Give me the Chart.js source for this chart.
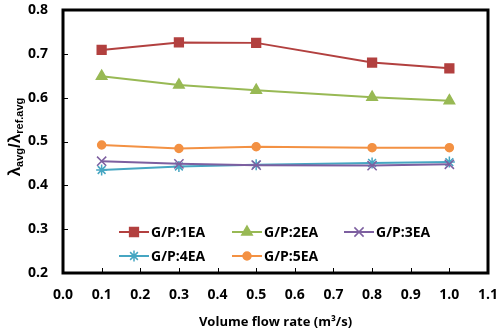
<!DOCTYPE html>
<html>
<head>
<meta charset="utf-8">
<script src="https://cdn.jsdelivr.net/npm/chart.js@4"></script>
<style>
  html, body { margin: 0; padding: 0; background: #fff; }
  #wrap { width: 496px; height: 335px; }
</style>
</head>
<body>
<div id="wrap"><canvas id="flow"></canvas></div>
<script>
// Werte
var flowRate = [0.1, 0.3, 0.5, 0.8, 1.0];
var gp1 = [0.709, 0.726, 0.725, 0.680, 0.667];
var gp2 = [0.649, 0.629, 0.617, 0.601, 0.593];
var gp3 = [0.455, 0.449, 0.446, 0.445, 0.448];
var gp4 = [0.435, 0.443, 0.447, 0.451, 0.453];
var gp5 = [0.492, 0.484, 0.488, 0.486, 0.486];
var seriesNames = ["G/P:1EA", "G/P:2EA", "G/P:3EA", "G/P:4EA", "G/P:5EA"];
var xTicks = [0.0, 0.1, 0.2, 0.3, 0.4, 0.5, 0.6, 0.7, 0.8, 0.9, 1.0, 1.1];
var yTicks = [0.2, 0.3, 0.4, 0.5, 0.6, 0.7, 0.8];
var xTitle = "Volume flow rate (m³/s)";

var FONT = "'Open Sans', 'Liberation Sans', sans-serif";
var TFONT = "'Liberation Sans', sans-serif";

function points(vals) {
  var out = [];
  for (var i in vals) {
    out.push({ x: flowRate[i], y: vals[i] });
  }
  return out;
}

var styles = [
  { color: "#B2403F", point: "rect", r: 6.2 },
  { color: "#98B954", point: "triangle", r: 6 },
  { color: "#7D5FA0", point: "crossRot", r: 6.5 },
  { color: "#46A6C2", point: "star", r: 5.5 },
  { color: "#F39143", point: "circle", r: 4 }
];
var values = [gp1, gp2, gp3, gp4, gp5];

var datasets = [];
for (var i = 0; i < values.length; i++) {
  datasets.push({
    label: seriesNames[i],
    data: points(values[i]),
    borderColor: styles[i].color,
    backgroundColor: styles[i].color,
    pointStyle: styles[i].point,
    pointRadius: styles[i].r,
    pointBorderWidth: 1.5,
    borderWidth: 2,
    tension: 0
  });
}

// Rahmen, innere Striche, Legende und Achsentitel
var decor = {
  id: "decor",
  afterDraw: function (chart) {
    var ctx = chart.ctx;
    var a = chart.chartArea;
    var xs = chart.scales.x, ys = chart.scales.y;
    ctx.save();
    ctx.strokeStyle = "#000";
    ctx.lineWidth = 1;
    ctx.beginPath();
    xTicks.forEach(function (v) {
      var px = Math.round(xs.getPixelForValue(v)) + 0.5;
      ctx.moveTo(px, a.bottom);
      ctx.lineTo(px, a.bottom - 5);
    });
    yTicks.forEach(function (v) {
      var py = Math.round(ys.getPixelForValue(v)) + 0.5;
      ctx.moveTo(a.left, py);
      ctx.lineTo(a.left + 5, py);
    });
    ctx.stroke();
    ctx.lineWidth = 3;
    ctx.strokeRect(a.left, a.top, a.right - a.left, a.bottom - a.top);

    // Legende im Diagramm
    var cols = [119, 232, 344];
    var rows = [232, 256];
    ctx.font = "bold 14px " + FONT;
    ctx.textBaseline = "middle";
    ctx.textAlign = "left";
    for (var k = 0; k < seriesNames.length; k++) {
      var lx = cols[k % 3], ly = rows[Math.floor(k / 3)];
      var st = styles[k];
      ctx.strokeStyle = st.color;
      ctx.fillStyle = st.color;
      ctx.lineWidth = 2;
      ctx.beginPath();
      ctx.moveTo(lx, ly);
      ctx.lineTo(lx + 30, ly);
      ctx.stroke();
      ctx.lineWidth = 1.5;
      Chart.helpers.drawPoint(ctx, { pointStyle: st.point, radius: st.r, borderWidth: 1.5 }, lx + 15, ly);
      ctx.fillStyle = "#000";
      ctx.fillText(seriesNames[k], lx + 32, ly + 1);
    }

    // x-Achsentitel
    ctx.fillStyle = "#000";
    ctx.textAlign = "center";
    ctx.font = "bold 13px " + FONT;
    ctx.fillText(xTitle, (a.left + a.right) / 2, 322);

    // y-Achsentitel mit Indizes
    ctx.translate(15, 137);
    ctx.rotate(-Math.PI / 2);
    var parts = [
      { t: "λ", f: "bold 17px " + TFONT, dy: 0 },
      { t: "avg", f: "bold 11px " + TFONT, dy: 5 },
      { t: "/λ", f: "bold 17px " + TFONT, dy: 0 },
      { t: "ref.avg", f: "bold 11px " + TFONT, dy: 5 }
    ];
    var total = 0;
    parts.forEach(function (p) { ctx.font = p.f; total += ctx.measureText(p.t).width; });
    var cx = -total / 2;
    ctx.textAlign = "left";
    parts.forEach(function (p) {
      ctx.font = p.f;
      ctx.fillText(p.t, cx, p.dy);
      cx += ctx.measureText(p.t).width;
    });
    ctx.restore();
  }
};

var tickFont = { family: FONT, size: 14, weight: "bold" };

new Chart(document.getElementById("flow"), {
  type: "line",
  data: { datasets: datasets },
  options: {
    responsive: true,
    maintainAspectRatio: false,
    animation: false,
    layout: { padding: { left: 0, top: 10, right: 8, bottom: 0 } },
    plugins: {
      legend: { display: false },
      tooltip: { enabled: false }
    },
    scales: {
      x: {
        type: "linear",
        min: 0,
        max: 1.1,
        afterBuildTicks: function (scale) {
          scale.ticks = xTicks.map(function (v) { return { value: v }; });
        },
        afterFit: function (scale) {
          scale.height = 62;
          scale.paddingLeft = 0;
          scale.paddingRight = 0;
        },
        grid: { display: false, drawTicks: false },
        border: { display: false },
        ticks: {
          padding: 14,
          color: "#000",
          font: tickFont,
          maxRotation: 0,
          callback: function (v) { return Number(v).toFixed(1); }
        }
      },
      y: {
        min: 0.2,
        max: 0.8,
        afterBuildTicks: function (scale) {
          scale.ticks = yTicks.map(function (v) { return { value: v }; });
        },
        afterFit: function (scale) {
          scale.width = 63;
          scale.paddingTop = 0;
          scale.paddingBottom = 0;
        },
        grid: { display: false, drawTicks: false },
        border: { display: false },
        ticks: {
          padding: 15,
          color: "#000",
          font: tickFont,
          callback: function (v) { return Number(v).toFixed(1); }
        }
      }
    }
  },
  plugins: [decor]
});
</script>
</body>
</html>
